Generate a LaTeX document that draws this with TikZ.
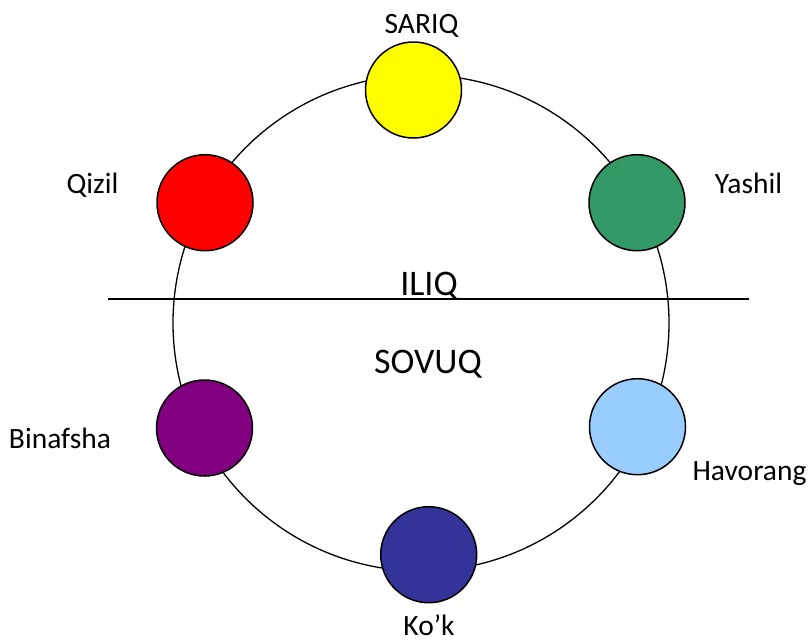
\documentclass[tikz,border=0pt]{standalone}
\usepackage{fontspec}
\setmainfont{Carlito}
\definecolor{cyellow}{HTML}{FFFF00}
\definecolor{cred}{HTML}{FF0000}
\definecolor{cgreen}{HTML}{339966}
\definecolor{cpurple}{HTML}{800080}
\definecolor{clblue}{HTML}{99CCFF}
\definecolor{cblue}{HTML}{333399}
\begin{document}
\begin{tikzpicture}[x=1pt,y=-1pt,
  dot/.style={circle,draw=black,line width=1.5pt,minimum size=96pt,inner sep=0pt},
  lbl/.style={anchor=base,inner sep=0pt,font=\fontsize{29.5}{31}\selectfont},
  big/.style={anchor=base,inner sep=0pt,font=\fontsize{36}{38}\selectfont}]
\useasboundingbox (0,0) rectangle (808,641);
\fill[white] (0,0) rectangle (808,641);
\draw[line width=1.3pt] (421,323) circle (248);
\coordinate (hl) at (108,299);
\coordinate (hr) at (749,299);
\draw[line width=1.5pt] (hl) -- (hr);
\node[dot,fill=cyellow] (sariq) at (413.5,90) {};
\node[dot,fill=cred] (qizil) at (205,202.7) {};
\node[dot,fill=cgreen] (yashil) at (637,202.7) {};
\node[dot,fill=cpurple] (binafsha) at (204.5,428) {};
\node[dot,fill=clblue] (havorang) at (637.5,426.7) {};
\node[dot,fill=cblue] (kok) at (428.7,554.7) {};
\node[lbl] (tsariq) at (421.5,33) {SARIQ};
\node[lbl] (tqizil) at (92.5,193) {Qizil};
\node[lbl] (tyashil) at (748.5,193) {Yashil};
\node[lbl] (tbin) at (60,448) {Binafsha};
\node[lbl] (thav) at (749.5,480) {Havorang};
\node[lbl] (tkok) at (429,635) {Ko’k};
\node[big] (iliq) at (429,295) {ILIQ};
\node[big] (sovuq) at (428,373) {SOVUQ};
\end{tikzpicture}
\end{document}
